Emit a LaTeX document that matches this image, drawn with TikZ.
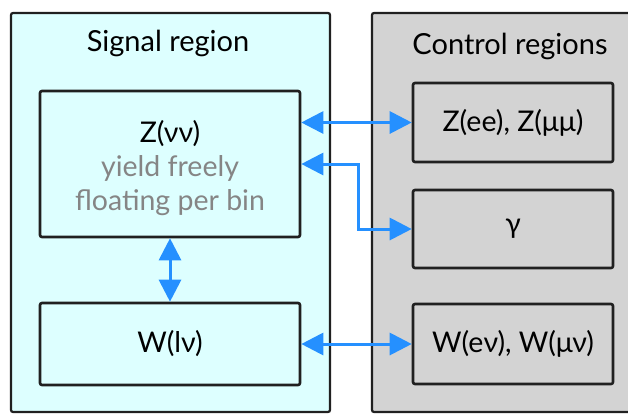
\documentclass[tikz,border=0pt]{standalone}
\usepackage{fontspec}
\setmainfont{Lato}
\usetikzlibrary{arrows.meta}
\definecolor{sigfill}{HTML}{DDFFFF}
\definecolor{ctlfill}{HTML}{D3D3D3}
\definecolor{arrcol}{HTML}{2590FF}
\definecolor{subtxt}{HTML}{858585}
\definecolor{edge}{HTML}{202020}
\begin{document}
\begin{tikzpicture}[x=1pt,y=-1pt,
  region/.style={draw=edge,line width=2.2pt,rounded corners=2pt,inner sep=0pt},
  box/.style={draw=edge,line width=2.6pt,rounded corners=2pt,inner sep=0pt,align=center,
    font=\fontsize{28.5}{34}\selectfont},
  boxtext/.style={inner sep=0pt,align=center,font=\fontsize{28.5}{34}\selectfont},
  title/.style={font=\fontsize{29}{34}\selectfont,inner sep=0pt},
  link/.style={draw=arrcol,line width=3pt,{Triangle[length=22pt,width=22pt]}-{Triangle[length=22pt,width=22pt]}}
]
\useasboundingbox (0,0) rectangle (628,413);
\begin{scope}
\clip (0,0) rectangle (628,413);
\node[region,fill=sigfill,minimum width=319pt,minimum height=399pt] (sig) at (170.5,212.5) {};
\node[region,fill=ctlfill,minimum width=268pt,minimum height=399pt] (ctl) at (506,212.5) {};
\end{scope}
\node[title] (sigt) at (168,43) {Signal region};
\node[title] (ctlt) at (510,46) {Control regions};
\node[box,fill=sigfill,minimum width=260pt,minimum height=146pt] (zvv) at (170,164) {};
\node[boxtext] (zvvtext) at (170,168)
  {Z(νν)\\\textcolor{subtxt}{yield freely}\\\textcolor{subtxt}{floating per bin}};
\node[box,fill=sigfill,minimum width=260pt,minimum height=82pt] (wlv) at (170,344) {W(lν)};
\node[box,fill=ctlfill,minimum width=200pt,minimum height=79pt] (zee) at (513,122.5) {Z(ee), Z(μμ)};
\node[box,fill=ctlfill,minimum width=200pt,minimum height=78pt] (gam) at (513,229) {γ};
\node[box,fill=ctlfill,minimum width=200pt,minimum height=80pt] (wev) at (513,344) {W(eν), W(μν)};
\coordinate (knee) at (358,0);
\draw[link] (zee.west -| zvv.east) -- (zee.west);
\draw[link] (zvv.east) -- (zvv.east -| knee) |- (gam.west);
\draw[link] (zvv.south) -- (wlv.north);
\draw[link] (wlv.east) -- (wev.west);
\end{tikzpicture}
\end{document}
